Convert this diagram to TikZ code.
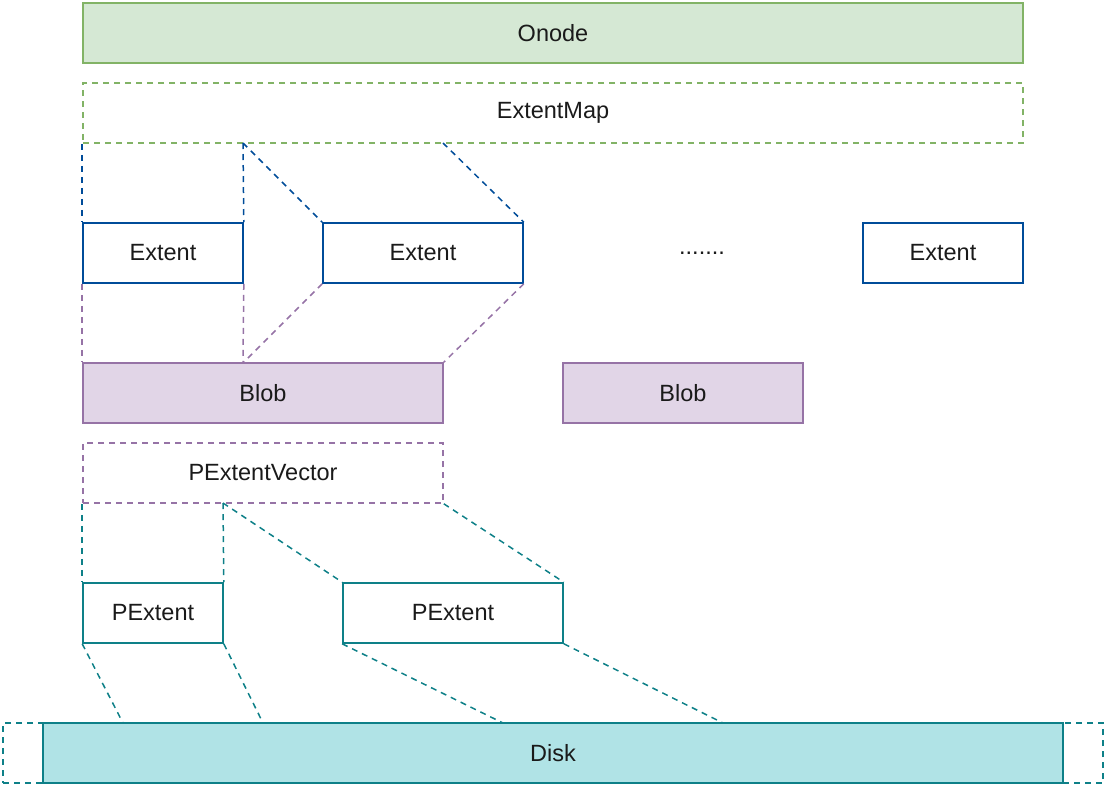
\documentclass[tikz,border=0pt]{standalone}
\usepackage{fontspec}
\setmainfont{Liberation Sans}
\definecolor{gfill}{HTML}{D5E8D4}
\definecolor{gline}{HTML}{82B366}
\definecolor{bline}{HTML}{004C99}
\definecolor{pfill}{HTML}{E1D5E7}
\definecolor{pline}{HTML}{9673A6}
\definecolor{tfill}{HTML}{B0E3E6}
\definecolor{tline}{HTML}{0E8088}
\definecolor{txt}{HTML}{1A1A1A}
\begin{document}
\begin{tikzpicture}[x=1pt,y=-1pt,
  lbl/.style={font=\fontsize{23.5}{27}\selectfont,text=txt},
  box/.style={draw,line width=1.6pt,inner sep=0pt,minimum height=60pt,lbl},
  dsh/.style={dash pattern=on 6pt off 5pt},
  conn/.style={line width=1.5pt,dsh}]
\useasboundingbox (0,0) rectangle (1108,788);
% boxes
\node[box,fill=gfill,draw=gline,minimum width=940pt] (onode) at (553,33) {Onode};
\node[box,draw=gline,dsh,minimum width=940pt] (emap) at (553,113) {ExtentMap};
\node[box,draw=bline,minimum width=160pt] (e1) at (163,253) {Extent};
\node[box,draw=bline,minimum width=200pt] (e2) at (423,253) {Extent};
\node[lbl] (dots) at (702,253) {.......};
\node[box,draw=bline,minimum width=160pt] (e3) at (943,253) {Extent};
\node[box,fill=pfill,draw=pline,minimum width=360pt] (b1) at (263,393) {Blob};
\node[box,fill=pfill,draw=pline,minimum width=240pt] (b2) at (683,393) {Blob};
\node[box,draw=pline,dsh,minimum width=360pt] (pev) at (263,473) {PExtentVector};
\node[box,draw=tline,minimum width=140pt] (p1) at (153,613) {PExtent};
\node[box,draw=tline,minimum width=220pt] (p2) at (453,613) {PExtent};
\node[box,draw=tline,dsh,minimum width=40pt] (dl) at (23,753) {};
\node[box,draw=tline,dsh,minimum width=40pt] (dr) at (1083,753) {};
\node[box,fill=tfill,draw=tline,minimum width=1020pt] (disk) at (553,753) {Disk};
% anchor points on shared edges
\coordinate (em1) at (243,143);
\coordinate (em2) at (443,143);
\coordinate (b1m) at (243,363);
\coordinate (pv1) at (223,503);
\coordinate (d1) at (123,723);
\coordinate (d2) at (263,723);
\coordinate (d3) at (503,723);
\coordinate (d4) at (723,723);
% ExtentMap -> Extents
\draw[conn,bline] (emap.south west) -- (e1.north west);
\draw[conn,bline] (em1) -- (e1.north east);
\draw[conn,bline] (em1) -- (e2.north west);
\draw[conn,bline] (em2) -- (e2.north east);
% Extents -> Blob
\draw[conn,pline] (e1.south west) -- (b1.north west);
\draw[conn,pline] (e1.south east) -- (b1m);
\draw[conn,pline] (e2.south west) -- (b1m);
\draw[conn,pline] (e2.south east) -- (b1.north east);
% PExtentVector -> PExtents
\draw[conn,tline] (pev.south west) -- (p1.north west);
\draw[conn,tline] (pv1) -- (p1.north east);
\draw[conn,tline] (pv1) -- (p2.north west);
\draw[conn,tline] (pev.south east) -- (p2.north east);
% PExtents -> Disk
\draw[conn,tline] (p1.south west) -- (d1);
\draw[conn,tline] (p1.south east) -- (d2);
\draw[conn,tline] (p2.south west) -- (d3);
\draw[conn,tline] (p2.south east) -- (d4);
\end{tikzpicture}
\end{document}
